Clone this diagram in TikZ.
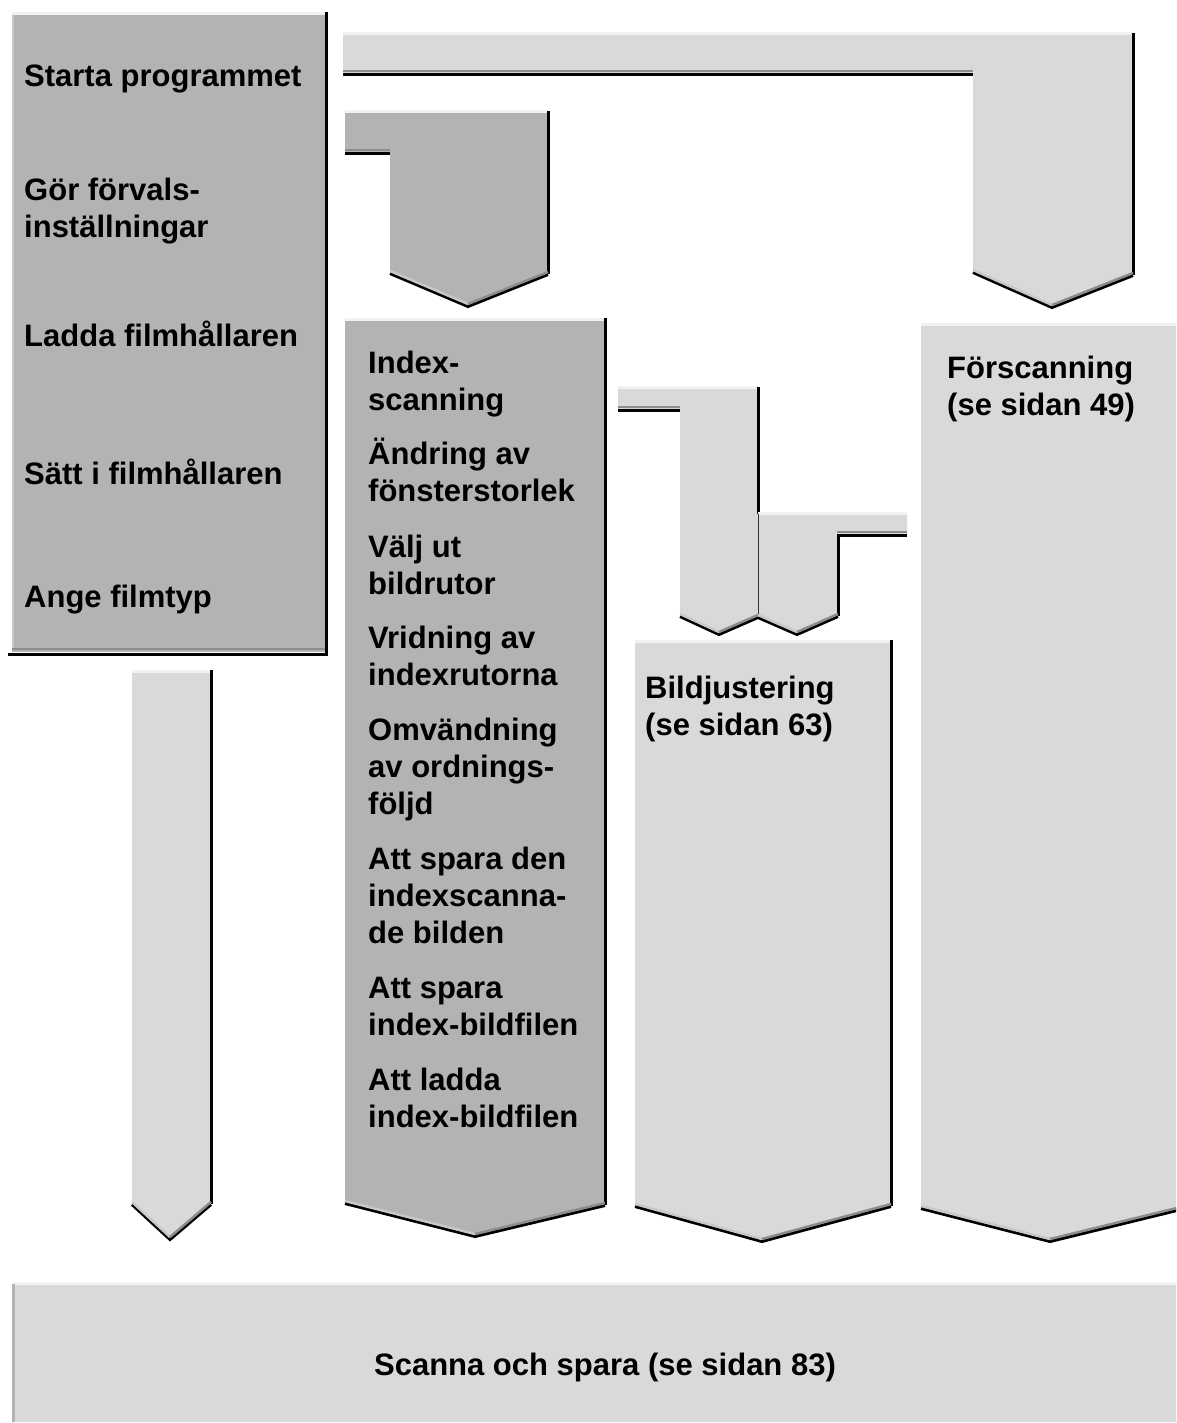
\documentclass[tikz,border=0pt]{standalone}
\usepackage{fontspec}
\setmainfont{Liberation Sans}
\usetikzlibrary{calc}
\definecolor{darkfill}{HTML}{B3B3B3}
\definecolor{lightfill}{HTML}{D9D9D9}
\definecolor{hilite}{HTML}{F2F2F2}
\definecolor{bevlight}{HTML}{C8C8C8}
\definecolor{bevdark}{HTML}{8C8C8C}
\tikzset{
  lbl/.style={anchor=base west, inner sep=0pt, align=left, font=\fontsize{31}{37}\selectfont\bfseries},
  rim/.style={line width=3pt, black},
  hi/.style={line width=3pt, hilite},
  barbev/.style={line width=2.5pt, bevdark},
}
\newcommand\chevedge[3]{%
  \draw[line width=3pt, black, line join=miter] ($(#1)+(0,1.5)$) -- ($(#2)+(0,1.5)$) -- ($(#3)+(0,1.5)$);
  \draw[line width=2.5pt, bevlight] ($(#1)+(0,-1)$) -- ($(#2)+(0,-1)$);
  \draw[line width=2.5pt, bevdark] ($(#2)+(0,-1)$) -- ($(#3)+(0,-1)$);
}
\begin{document}
\begin{tikzpicture}[x=1pt,y=-1pt]
\useasboundingbox (0,0) rectangle (1176,1423);
\clip (0,0) rectangle (1176,1423);

% ---------- left dark box ----------
\fill[darkfill] (12,15) rectangle (325,652);
\draw[hi] (12,14) -- (325,14);
\draw[line width=2pt, bevlight] (13,15) -- (13,650);
\draw[line width=2pt, bevdark] (12,649) -- (325,649);
\draw[rim] (326.5,12) -- (326.5,654.5) -- (8,654.5);

% ---------- connector: Starta -> Forscanning ----------
\fill[lightfill] (343,35) -- (1132,35) -- (1132,274) -- (1052,306) -- (973,271) -- (973,73) -- (343,73) -- cycle;
\draw[hi] (343,34) -- (1132,34);
\draw[barbev] (343,71) -- (973,71);
\draw[rim] (343,74.5) -- (973,74.5);
\draw[rim] (1133.5,33) -- (1133.5,275);
\chevedge{973,271}{1052,306}{1133,274}

% ---------- connector: Gor forvals -> Index ----------
\fill[darkfill] (345,113) -- (547,113) -- (547,273) -- (468,305) -- (390,272) -- (390,152) -- (345,152) -- cycle;
\draw[hi] (345,112) -- (547,112);
\draw[barbev] (345,150) -- (390,150);
\draw[rim] (345,153.5) -- (390,153.5);
\draw[rim] (548.5,111) -- (548.5,274);
\chevedge{390,272}{468,305}{548,273}

% ---------- left long arrow ----------
\fill[lightfill] (132,672) -- (210,672) -- (210,1203) -- (170,1238) -- (132,1203) -- cycle;
\draw[hi] (132,671) -- (210,671);
\draw[rim] (211.5,670) -- (211.5,1204);
\chevedge{132,1203}{170,1238}{211,1203}

% ---------- Index column ----------
\fill[darkfill] (345,320) -- (604,320) -- (604,1204) -- (475,1235) -- (345,1202) -- cycle;
\draw[hi] (345,319) -- (604,319);
\draw[rim] (605.5,318) -- (605.5,1205);
\chevedge{345,1202}{475,1235}{605,1204}

% ---------- connector C ----------
\fill[lightfill] (618,388) -- (758,388) -- (758,616) -- (719,633) -- (680,615) -- (680,409) -- (618,409) -- cycle;
\draw[hi] (618,387) -- (758,387);
\draw[barbev] (618,407) -- (680,407);
\draw[rim] (618,410.5) -- (680,410.5);
\draw[rim] (758.5,387) -- (758.5,514);
\chevedge{680,615}{719,633}{758,616}

% ---------- connector D ----------
\fill[lightfill] (758,514) -- (907,514) -- (907,534) -- (837,534) -- (837,615) -- (797,633) -- (758,616) -- cycle;
\draw[hi] (758,513) -- (907,513);
\draw[barbev] (837,532) -- (907,532);
\draw[rim] (837,535.5) -- (907,535.5);
\draw[rim] (838.5,534) -- (838.5,616);
\draw[line width=1.5pt, black!80] (758.5,514) -- (758.5,616);
\chevedge{758,616}{797,633}{838,615}

% ---------- Bildjustering column ----------
\fill[lightfill] (635,642) -- (890,642) -- (890,1205) -- (762,1240) -- (635,1205) -- cycle;
\draw[hi] (635,641) -- (890,641);
\draw[rim] (891.5,640) -- (891.5,1206);
\chevedge{635,1205}{762,1240}{891,1205}

% ---------- Forscanning column ----------
\fill[lightfill] (921,325) -- (1185,325) -- (1185,1207) -- (1050,1240) -- (921,1207) -- cycle;
\draw[hi] (921,324) -- (1185,324);
\chevedge{921,1207}{1050,1240}{1185,1207}

% ---------- Scanna box ----------
\fill[lightfill] (12,1284) rectangle (1185,1422);
\draw[hi] (12,1283) -- (1185,1283);
\draw[line width=3pt, darkfill] (13.5,1284) -- (13.5,1422);

% ---------- texts (base = baseline of last line) ----------
\node[lbl] (s1) at (24,87) {Starta programmet};
\node[lbl] (s2) at (24,238) {Gör förvals-\\inställningar};
\node[lbl] (s3) at (24,346) {Ladda filmhållaren};
\node[lbl] (s4) at (24,484) {Sätt i filmhållaren};
\node[lbl] (s5) at (24,607) {Ange filmtyp};

\node[lbl] (i1) at (368,410) {Index-\\scanning};
\node[lbl] (i2) at (368,501) {Ändring av\\fönsterstorlek};
\node[lbl] (i3) at (368,594) {Välj ut\\bildrutor};
\node[lbl] (i4) at (368,685) {Vridning av\\indexrutorna};
\node[lbl] (i5) at (368,814) {Omvändning\\av ordnings-\\följd};
\node[lbl] (i6) at (368,943) {Att spara den\\indexscanna-\\de bilden};
\node[lbl] (i7) at (368,1035) {Att spara\\index-bildfilen};
\node[lbl] (i8) at (368,1127) {Att ladda\\index-bildfilen};

\node[lbl] (bj) at (645,735) {Bildjustering\\(se sidan 63)};
\node[lbl] (fs) at (947,415) {Förscanning\\(se sidan 49)};
\node[lbl, anchor=base] (sc) at (605,1375) {Scanna och spara (se sidan 83)};
\end{tikzpicture}
\end{document}
